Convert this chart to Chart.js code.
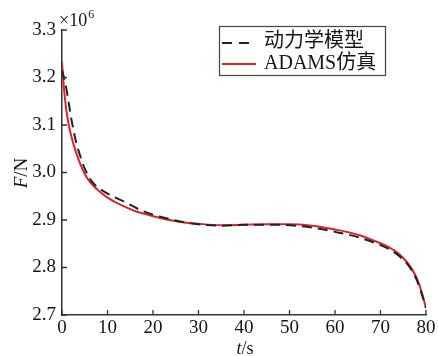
<!DOCTYPE html>
<html>
<head>
<meta charset="utf-8">
<script src="https://cdn.jsdelivr.net/npm/chart.js@4.4.1/dist/chart.umd.min.js"></script>
<style>
  html, body { margin: 0; padding: 0; background: #fff; }
  #wrap { width: 438px; height: 356px; }
</style>
</head>
<body>
<div id="wrap"><canvas id="forceChart" width="438" height="356"></canvas></div>
<script>
// values in units of 10^6 N
const adamsT = [0, 0.5, 1, 1.5, 2, 3, 4, 5, 6, 8, 10, 12, 14, 16, 18, 20, 23, 26, 30, 35, 40, 45, 50, 55, 60, 65, 70, 71, 72, 73, 74, 75, 76, 77, 78, 79, 80];
const adamsF = [3.232, 3.17, 3.128, 3.10, 3.078, 3.045, 3.018, 2.997, 2.982, 2.962, 2.947, 2.936, 2.927, 2.919, 2.913, 2.908, 2.901, 2.896, 2.892, 2.889, 2.890, 2.891, 2.891, 2.888, 2.880, 2.869, 2.851, 2.847, 2.842, 2.836, 2.829, 2.820, 2.809, 2.795, 2.777, 2.750, 2.715];

const modelT = [0, 0.7, 1.5, 2.1, 3, 4, 5, 6.5, 8, 10.5, 12, 14, 17, 20, 22, 25, 30, 35, 40, 45, 50, 55, 60, 65, 70, 72, 74, 76, 77, 78, 79, 80];
const modelF = [3.215, 3.19, 3.145, 3.11, 3.068, 3.035, 3.008, 2.982, 2.968, 2.953, 2.946, 2.937, 2.922, 2.911, 2.906, 2.899, 2.891, 2.888, 2.890, 2.890, 2.889, 2.884, 2.875, 2.864, 2.847, 2.838, 2.825, 2.806, 2.792, 2.773, 2.746, 2.715];

const legendLabels = ["动力学模型", "ADAMS仿真"];
const xTicks = [0, 10, 20, 30, 40, 50, 60, 70, 80];
const yTicks = [2.7, 2.8, 2.9, 3.0, 3.1, 3.2, 3.3];

const SERIF = "'Liberation Serif', 'Times New Roman', 'Noto Sans CJK SC', serif";
const RED = "#d8262a";
const AXIS = "#333";
const TEXT = "#151515";

function toPoints(ts, fs){
  return ts.map((t, i) => ({ x: t, y: fs[i] }));
}

/* inward ticks, axis titles, legend box */
const decorPlugin = {
  id: "decor",
  afterDraw(chart){
    const ctx = chart.ctx;
    const xs = chart.scales.x;
    const ys = chart.scales.y;
    const area = chart.chartArea;
    ctx.save();

    // inward tick marks
    ctx.strokeStyle = AXIS;
    ctx.lineWidth = 1.3;
    ctx.beginPath();
    xTicks.forEach(v => {
      const px = xs.getPixelForValue(v);
      ctx.moveTo(px, area.bottom);
      ctx.lineTo(px, area.bottom - 5);
    });
    yTicks.forEach(v => {
      const py = ys.getPixelForValue(v);
      ctx.moveTo(area.left, py);
      ctx.lineTo(area.left + 5, py);
    });
    ctx.stroke();

    ctx.fillStyle = TEXT;

    // x10^6
    ctx.textBaseline = "alphabetic";
    ctx.textAlign = "left";
    ctx.font = "18px " + SERIF;
    ctx.fillText("×10", 59, 26);
    const w10 = ctx.measureText("×10").width;
    ctx.font = "12px " + SERIF;
    ctx.fillText("6", 59 + w10 + 1, 18);

    // x title t/s
    ctx.font = "italic 18px " + SERIF;
    const wt = ctx.measureText("t").width;
    ctx.font = "18px " + SERIF;
    const ws = ctx.measureText("/s").width;
    let sx = 245 - (wt + ws) / 2;
    ctx.font = "italic 18px " + SERIF;
    ctx.fillText("t", sx, 354);
    ctx.font = "18px " + SERIF;
    ctx.fillText("/s", sx + wt, 354);

    // y title F/N
    ctx.save();
    ctx.translate(27, 173);
    ctx.rotate(-Math.PI / 2);
    ctx.font = "italic 19px " + SERIF;
    const wf = ctx.measureText("F").width;
    ctx.font = "19px " + SERIF;
    const wn = ctx.measureText("/N").width;
    sx = -(wf + wn) / 2;
    ctx.font = "italic 19px " + SERIF;
    ctx.fillText("F", sx, 0);
    ctx.font = "19px " + SERIF;
    ctx.fillText("/N", sx + wf, 0);
    ctx.restore();

    // legend
    ctx.strokeStyle = "#444";
    ctx.lineWidth = 1.2;
    ctx.strokeRect(219.5, 26.5, 166, 49);

    ctx.lineWidth = 2;
    ctx.strokeStyle = "#222";
    ctx.setLineDash([10, 7]);
    ctx.beginPath();
    ctx.moveTo(222, 43);
    ctx.lineTo(256, 43);
    ctx.stroke();
    ctx.setLineDash([]);
    ctx.strokeStyle = RED;
    ctx.beginPath();
    ctx.moveTo(222, 64);
    ctx.lineTo(256, 64);
    ctx.stroke();

    ctx.fillStyle = TEXT;
    ctx.font = "20px " + SERIF;
    ctx.textBaseline = "middle";
    ctx.fillText(legendLabels[0], 264, 42);
    ctx.fillText(legendLabels[1], 264, 64);

    ctx.restore();
  }
};

new Chart(document.getElementById("forceChart"), {
  type: "line",
  data: {
    datasets: [
      {
        label: legendLabels[0],
        data: toPoints(modelT, modelF),
        borderColor: "#222",
        borderWidth: 2,
        borderDash: [10, 6],
        pointRadius: 0,
        cubicInterpolationMode: "monotone",
        fill: false
      },
      {
        label: legendLabels[1],
        data: toPoints(adamsT, adamsF),
        borderColor: RED,
        borderWidth: 2,
        pointRadius: 0,
        cubicInterpolationMode: "monotone",
        fill: false
      }
    ]
  },
  options: {
    responsive: false,
    animation: false,
    layout: { padding: { top: 30, right: 12, left: 0, bottom: 0 } },
    plugins: {
      legend: { display: false },
      tooltip: { enabled: false }
    },
    scales: {
      x: {
        type: "linear",
        min: 0,
        max: 80,
        afterBuildTicks: s => { s.ticks = xTicks.map(v => ({ value: v })); },
        afterFit: s => { s.height = 41; },
        ticks: {
          color: TEXT,
          padding: 2,
          maxRotation: 0,
          font: { family: SERIF, size: 19 }
        },
        grid: { display: true, drawOnChartArea: false, drawTicks: false },
        border: { color: AXIS, width: 1.5 }
      },
      y: {
        type: "linear",
        min: 2.7,
        max: 3.3,
        afterBuildTicks: s => { s.ticks = yTicks.map(v => ({ value: v })); },
        afterFit: s => { s.width = 62; },
        ticks: {
          color: TEXT,
          padding: 6,
          callback: v => Number(v).toFixed(1),
          font: { family: SERIF, size: 19 }
        },
        grid: { display: true, drawOnChartArea: false, drawTicks: false },
        border: { color: AXIS, width: 1.5 }
      }
    }
  },
  plugins: [decorPlugin]
});
</script>
</body>
</html>
